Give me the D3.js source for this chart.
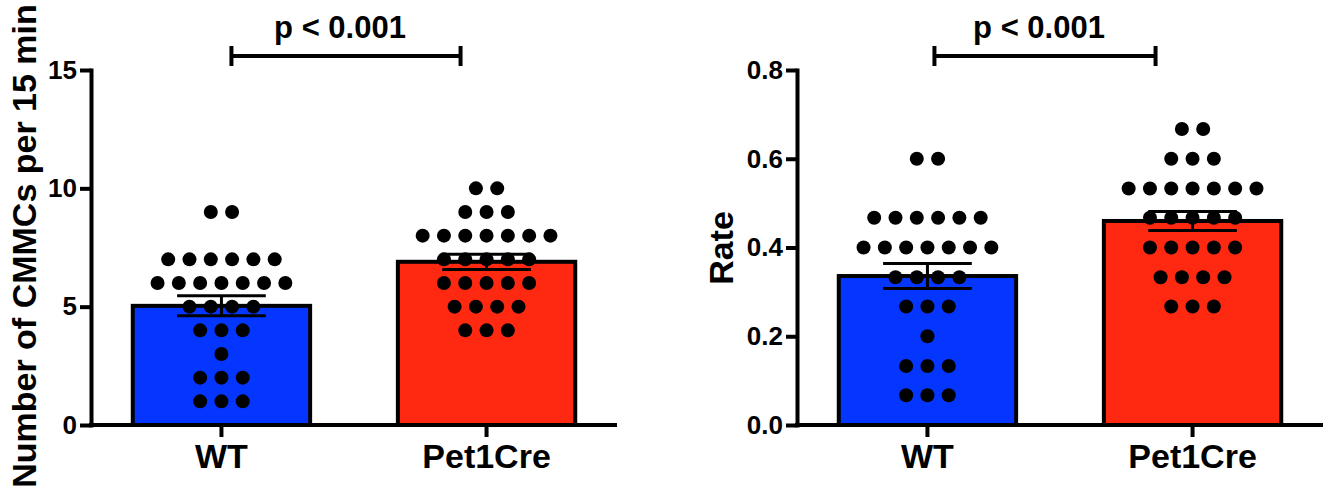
<!DOCTYPE html>
<html>
<head>
<meta charset="utf-8">
<script src="https://cdn.jsdelivr.net/npm/d3@7"></script>
<style>
  body { margin: 0; background: #fff; }
  text { font-family: "Liberation Sans", Arial, sans-serif; font-weight: bold; fill: #000; }
</style>
</head>
<body>
<svg id="chart" width="1330" height="491"></svg>
<script>
const groups = ["WT", "Pet1Cre"];
const groupColors = ["#0436ff", "#ff2811"];

// counts per 15 min, one per animal
const wtCounts = [9, 9, 7, 7, 7, 7, 7, 7, 6, 6, 6, 6, 6, 6, 6, 5, 5, 5, 5, 4, 4, 4, 3, 2, 2, 2, 1, 1, 1];
const creCounts = [10, 10, 9, 9, 9, 8, 8, 8, 8, 8, 8, 8, 7, 7, 7, 7, 7, 6, 6, 6, 6, 6, 5, 5, 5, 5, 4, 4, 4];

// rate, one per animal
const wtRate = [0.600, 0.600, 0.467, 0.467, 0.467, 0.467, 0.467, 0.467, 0.400, 0.400, 0.400, 0.400, 0.400, 0.400, 0.400,
  0.333, 0.333, 0.333, 0.333, 0.267, 0.267, 0.267, 0.200, 0.133, 0.133, 0.133, 0.067, 0.067, 0.067];
const creRate = [0.667, 0.667, 0.600, 0.600, 0.600, 0.533, 0.533, 0.533, 0.533, 0.533, 0.533, 0.533,
  0.467, 0.467, 0.467, 0.467, 0.467, 0.400, 0.400, 0.400, 0.400, 0.400, 0.333, 0.333, 0.333, 0.333, 0.267, 0.267, 0.267];

const countTicks = [0, 5, 10, 15];
const rateTicks = [0, 0.2, 0.4, 0.6, 0.8];
const pLabel = "p < 0.001";

const svg = d3.select("#chart");
const plotTop = 70, plotBottom = 425;
const dotR = 7, dotGap = 21.3;

function drawPanel(opts) {
  const g = svg.append("g");

  const x = d3.scaleBand()
    .domain(groups)
    .range([opts.left + 2, opts.right])
    .paddingInner(0.331)
    .paddingOuter(0.15);

  const y = d3.scaleLinear()
    .domain(opts.domain)
    .range([plotBottom, plotTop]);

  const bw = x.bandwidth();
  const cx = d => x(d) + bw / 2;

  const stats = opts.series.map((vals, i) => {
    const m = d3.mean(vals);
    const sem = d3.deviation(vals) / Math.sqrt(vals.length);
    return { key: groups[i], vals: vals, mean: m, sem: sem, color: groupColors[i] };
  });

  // bars
  g.selectAll(".bar")
    .data(stats)
    .enter().append("rect")
    .attr("class", "bar")
    .attr("x", d => x(d.key))
    .attr("width", bw)
    .attr("y", d => y(d.mean))
    .attr("height", d => y(0) - y(d.mean))
    .attr("fill", d => d.color)
    .attr("stroke", "#000")
    .attr("stroke-width", 4);

  // error bars (mean +/- SEM)
  const eb = g.selectAll(".err")
    .data(stats)
    .enter().append("g")
    .attr("class", "err")
    .attr("stroke", "#000")
    .attr("stroke-width", 3);

  eb.append("line")
    .attr("x1", d => cx(d.key)).attr("x2", d => cx(d.key))
    .attr("y1", d => y(d.mean - d.sem)).attr("y2", d => y(d.mean + d.sem));
  eb.append("line")
    .attr("x1", d => cx(d.key) - bw / 4).attr("x2", d => cx(d.key) + bw / 4)
    .attr("y1", d => y(d.mean + d.sem)).attr("y2", d => y(d.mean + d.sem));
  eb.append("line")
    .attr("x1", d => cx(d.key) - bw / 4).attr("x2", d => cx(d.key) + bw / 4)
    .attr("y1", d => y(d.mean - d.sem)).attr("y2", d => y(d.mean - d.sem));

  // scatter dots, stacked in rows by value
  stats.forEach(s => {
    const rows = d3.groups(s.vals, v => v);
    const pts = [];
    rows.forEach(([v, arr]) => {
      arr.forEach((_, i) => {
        pts.push({ x: cx(s.key) + (i - (arr.length - 1) / 2) * dotGap, y: y(v) });
      });
    });
    g.append("g").selectAll("circle")
      .data(pts)
      .enter().append("circle")
      .attr("cx", d => d.x)
      .attr("cy", d => d.y)
      .attr("r", dotR)
      .attr("fill", "#000");
  });

  // axes
  const yAxis = g.append("g")
    .attr("transform", "translate(" + opts.left + ",0)")
    .call(d3.axisLeft(y).tickValues(opts.ticks).tickFormat(opts.fmt).tickSize(11).tickSizeOuter(0).tickPadding(3));
  const xAxis = g.append("g")
    .attr("transform", "translate(0," + plotBottom + ")")
    .call(d3.axisBottom(x).tickSize(12).tickSizeOuter(0).tickPadding(7));

  [yAxis, xAxis].forEach(a => {
    a.select(".domain").attr("stroke-width", 4).attr("stroke-linecap", "square");
    a.selectAll(".tick line").attr("stroke-width", 4);
  });
  xAxis.select(".domain").attr("d", "M" + opts.left + ",0H" + opts.right);
  yAxis.selectAll(".tick text").attr("font-size", 26);
  xAxis.selectAll(".tick text").attr("font-size", 34);

  // y title
  g.append("text")
    .attr("transform", "translate(" + opts.titleX + "," + opts.titleY + ") rotate(-90)")
    .attr("text-anchor", "middle")
    .attr("font-size", 34)
    .text(opts.title);

  // significance bracket
  const bx1 = cx(groups[0]) + opts.brL, bx2 = cx(groups[1]) - opts.brR, by = 56;
  const br = g.append("g").attr("stroke", "#000").attr("stroke-width", 4);
  br.append("line").attr("x1", bx1).attr("x2", bx2).attr("y1", by).attr("y2", by);
  br.append("line").attr("x1", bx1).attr("x2", bx1).attr("y1", by - 10).attr("y2", by + 10);
  br.append("line").attr("x1", bx2).attr("x2", bx2).attr("y1", by - 10).attr("y2", by + 10);
  g.append("text")
    .attr("x", (bx1 + bx2) / 2 - 6)
    .attr("y", 38)
    .attr("text-anchor", "middle")
    .attr("font-size", 31)
    .text(pLabel);
}

drawPanel({
  left: 91, right: 615,
  domain: [0, 15], ticks: countTicks, fmt: d3.format("d"),
  series: [wtCounts, creCounts],
  title: "Number of CMMCs per 15 min", titleX: 36, titleY: 246,
  brL: 10, brR: 26
});

drawPanel({
  left: 797, right: 1321,
  domain: [0, 0.8], ticks: rateTicks, fmt: d3.format(".1f"),
  series: [wtRate, creRate],
  title: "Rate", titleX: 733, titleY: 248,
  brL: 7, brR: 37
});
</script>
</body>
</html>
